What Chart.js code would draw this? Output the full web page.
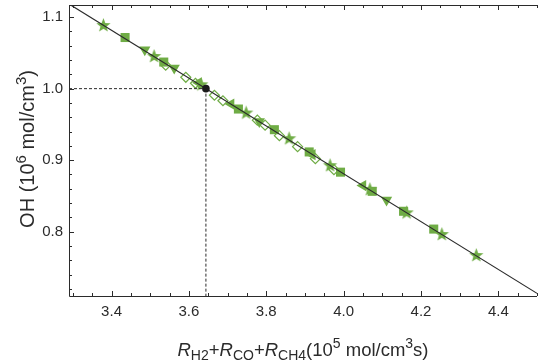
<!DOCTYPE html>
<html>
<head>
<meta charset="utf-8">
<script src="https://cdn.jsdelivr.net/npm/chart.js@4.4.1/dist/chart.umd.min.js"></script>
<style>
  html, body { margin: 0; padding: 0; background: #fff; }
  #wrap { width: 538px; height: 363px; }
</style>
</head>
<body>
<div id="wrap"><canvas id="chart" width="538" height="363"></canvas></div>
<script>
// values
const starX = [3.379, 3.510, 3.632, 3.748, 3.859, 3.965, 4.068, 4.163, 4.254, 4.343];
const starY = [1.0883, 1.0450, 1.0054, 0.9659, 0.9300, 0.8923, 0.8588, 0.8263, 0.7960, 0.7666];
const squareX = [3.435, 3.535, 3.728, 3.821, 3.911, 3.992, 4.074, 4.155, 4.233];
const squareY = [1.0715, 1.0372, 0.9715, 0.9426, 0.9115, 0.8832, 0.8564, 0.8285, 0.8036];
const downTriX = [3.486, 3.562, 3.782, 4.111];
const downTriY = [1.0543, 1.0288, 0.9542, 0.8444];
const leftTriX = [3.625, 3.709, 3.919, 4.050];
const leftTriY = [1.0082, 0.9785, 0.9077, 0.8644];
const diamondX = [3.540, 3.592, 3.617, 3.666, 3.688, 3.777, 3.797, 3.834, 3.881, 3.927, 3.975];
const diamondY = [1.0327, 1.0159, 1.0075, 0.9908, 0.9831, 0.9559, 0.9489, 0.9342, 0.9189, 0.9021, 0.8867];
const fitX = [3.29, 4.5];
const fitY = [1.1184, 0.7137];
const refX = 3.644;
const refY = 1.0;
const xTicks = [3.4, 3.6, 3.8, 4.0, 4.2, 4.4];
const yTicks = [0.8, 0.9, 1.0, 1.1];
const xRange = [3.29, 4.5];
const yRange = [0.71, 1.117];

const green = '#6fac45';
const ink = '#2b2b2b';
const FONT = '"Liberation Sans", Arial, sans-serif';

const pts = (xs, ys) => xs.map((x, i) => ({ x: x, y: ys[i] }));

function makeStar(r, color) {
  const c = document.createElement('canvas');
  const s = Math.ceil(r * 2 + 2);
  c.width = s; c.height = s;
  const g = c.getContext('2d');
  g.translate(s / 2, s / 2);
  g.beginPath();
  for (let i = 0; i < 10; i++) {
    const rr = i % 2 === 0 ? r : r * 0.42;
    const a = -Math.PI / 2 + i * Math.PI / 5;
    g.lineTo(Math.cos(a) * rr, Math.sin(a) * rr);
  }
  g.closePath();
  g.fillStyle = color;
  g.fill();
  return c;
}
const starImg = makeStar(7.5, green);

// draw a run of text pieces: n = normal, sup, sub; it = italic
function drawRich(ctx, parts, size) {
  const small = Math.round(size * 0.75);
  const fontOf = p => (p.it ? 'italic ' : '') + (p.k === 'n' ? size : small) + 'px ' + FONT;
  let total = 0;
  parts.forEach(p => { ctx.font = fontOf(p); total += ctx.measureText(p.t).width; });
  let x = -total / 2;
  parts.forEach(p => {
    ctx.font = fontOf(p);
    const dy = p.k === 'sup' ? -size * 0.42 : (p.k === 'sub' ? size * 0.2 : 0);
    ctx.fillText(p.t, x, dy);
    x += ctx.measureText(p.t).width;
  });
}

const axesPlugin = {
  id: 'axesPlugin',
  afterDraw(chart) {
    const { ctx, chartArea: a, scales: { x, y } } = chart;
    ctx.save();
    ctx.strokeStyle = ink;
    ctx.lineWidth = 1;
    ctx.beginPath();
    ctx.moveTo(a.left + 0.5, a.top);
    ctx.lineTo(a.left + 0.5, a.bottom + 0.5);
    ctx.lineTo(a.right, a.bottom + 0.5);
    ctx.moveTo(a.left, a.top + 0.5);
    ctx.lineTo(a.right, a.top + 0.5);
    // x ticks every 0.05, longer at labelled values
    for (let v = 3.3; v <= xRange[1] + 1e-9; v += 0.05) {
      const px = Math.round(x.getPixelForValue(v)) + 0.5;
      const major = xTicks.some(t => Math.abs(t - v) < 1e-6);
      const len = major ? 5 : 3;
      ctx.moveTo(px, a.bottom);
      ctx.lineTo(px, a.bottom - len);
      ctx.moveTo(px, a.top);
      ctx.lineTo(px, a.top + len);
    }
    // y ticks every 0.02
    for (let v = 0.72; v <= yRange[1] + 1e-9; v += 0.02) {
      const py = Math.round(y.getPixelForValue(v)) + 0.5;
      const major = yTicks.some(t => Math.abs(t - v) < 1e-6);
      ctx.moveTo(a.left, py);
      ctx.lineTo(a.left + (major ? 5 : 3), py);
    }
    ctx.stroke();

    // tick labels
    ctx.fillStyle = ink;
    ctx.font = '15px ' + FONT;
    ctx.textBaseline = 'middle';
    ctx.textAlign = 'center';
    xTicks.forEach(v => ctx.fillText(v.toFixed(1), x.getPixelForValue(v), a.bottom + 16));
    ctx.textAlign = 'right';
    yTicks.forEach(v => ctx.fillText(v.toFixed(1), a.left - 6, y.getPixelForValue(v)));

    // axis titles
    ctx.textAlign = 'left';
    ctx.textBaseline = 'alphabetic';
    ctx.save();
    ctx.translate((a.left + a.right) / 2, 356);
    drawRich(ctx, [
      { t: 'R', k: 'n', it: true }, { t: 'H2', k: 'sub' }, { t: '+', k: 'n' },
      { t: 'R', k: 'n', it: true }, { t: 'CO', k: 'sub' }, { t: '+', k: 'n' },
      { t: 'R', k: 'n', it: true }, { t: 'CH4', k: 'sub' },
      { t: '(10', k: 'n' }, { t: '5', k: 'sup' }, { t: ' mol/cm', k: 'n' },
      { t: '3', k: 'sup' }, { t: 's)', k: 'n' }
    ], 18.5);
    ctx.restore();

    ctx.save();
    ctx.translate(34, 149);
    ctx.rotate(-Math.PI / 2);
    drawRich(ctx, [
      { t: 'OH (10', k: 'n' }, { t: '6', k: 'sup' }, { t: ' mol/cm', k: 'n' },
      { t: '3', k: 'sup' }, { t: ')', k: 'n' }
    ], 20);
    ctx.restore();
    ctx.restore();
  }
};

const markerBase = { type: 'scatter', showLine: false, borderWidth: 0, backgroundColor: green, borderColor: green, pointHoverRadius: 0 };
const noPad = s => { s.paddingTop = 0; s.paddingBottom = 0; s.paddingLeft = 0; s.paddingRight = 0; };

new Chart(document.getElementById('chart'), {
  type: 'scatter',
  data: {
    datasets: [
      { type: 'scatter', data: [{ x: refX, y: refY }], pointStyle: 'circle', pointRadius: 3.8,
        backgroundColor: '#1a1a1a', borderColor: '#1a1a1a', borderWidth: 0, order: 0 },
      { type: 'line', data: pts(fitX, fitY), borderColor: ink, borderWidth: 1.2, pointRadius: 0, fill: false, order: 1 },
      { type: 'line', data: [{ x: xRange[0], y: refY }, { x: refX, y: refY }], borderColor: ink, borderWidth: 1,
        borderDash: [3, 2], pointRadius: 0, fill: false, order: 2 },
      { type: 'line', data: [{ x: refX, y: refY }, { x: refX, y: yRange[0] }], borderColor: ink, borderWidth: 1,
        borderDash: [3, 2], pointRadius: 0, fill: false, order: 2 },
      Object.assign({}, markerBase, { data: pts(diamondX, diamondY), pointStyle: 'rectRot', pointRadius: 5,
        backgroundColor: 'rgba(255,255,255,0)', borderWidth: 1.2, order: 3 }),
      Object.assign({}, markerBase, { data: pts(squareX, squareY), pointStyle: 'rect', pointRadius: 6.4, order: 4 }),
      Object.assign({}, markerBase, { data: pts(downTriX, downTriY), pointStyle: 'triangle', rotation: 180, pointRadius: 6.5, order: 5 }),
      Object.assign({}, markerBase, { data: pts(leftTriX, leftTriY), pointStyle: 'triangle', rotation: 270, pointRadius: 6.5, order: 6 }),
      Object.assign({}, markerBase, { data: pts(starX, starY), pointStyle: starImg, pointRadius: 7.5, order: 7 })
    ]
  },
  options: {
    responsive: false,
    animation: false,
    events: [],
    layout: { autoPadding: false, padding: { top: 5, right: 1, left: 0, bottom: 0 } },
    plugins: { legend: { display: false }, tooltip: { enabled: false } },
    scales: {
      x: {
        type: 'linear', min: xRange[0], max: xRange[1],
        grid: { display: false }, border: { display: false },
        afterBuildTicks: s => { s.ticks = xTicks.map(v => ({ value: v })); },
        afterFit: s => { s.height = 67; noPad(s); },
        ticks: { display: false }
      },
      y: {
        type: 'linear', min: yRange[0], max: yRange[1],
        grid: { display: false }, border: { display: false },
        afterBuildTicks: s => { s.ticks = yTicks.map(v => ({ value: v })); },
        afterFit: s => { s.width = 69; noPad(s); },
        ticks: { display: false }
      }
    }
  },
  plugins: [axesPlugin]
});
</script>
</body>
</html>
